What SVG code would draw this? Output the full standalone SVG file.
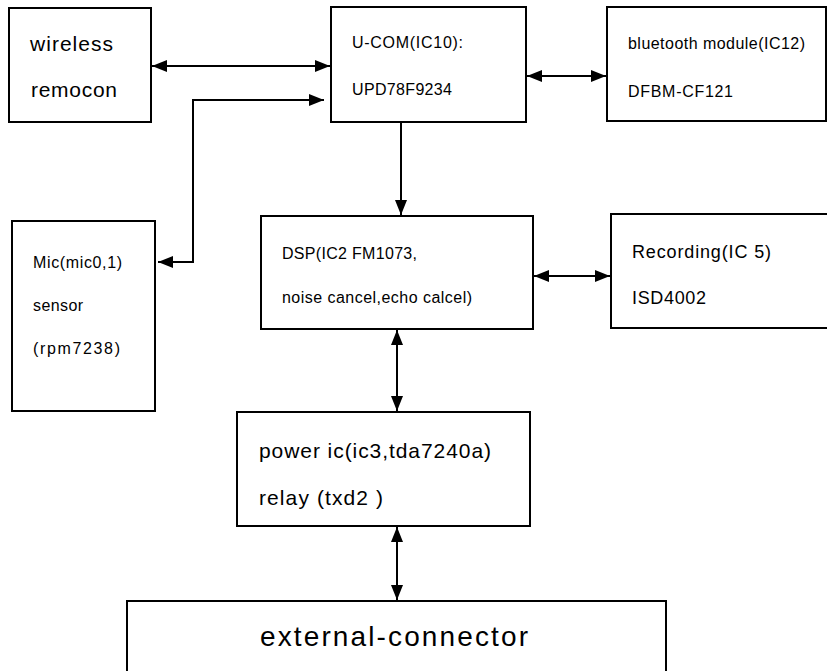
<svg xmlns="http://www.w3.org/2000/svg" width="827" height="671" viewBox="0 0 827 671">
<style>
  .box { fill: #ffffff; stroke: #000000; stroke-width: 2; }
  .t { font-family: "Liberation Sans", Arial, sans-serif; fill: #000000; }
  .s17 { font-size: 16px; }
  .s19 { font-size: 18px; }
  .s22 { font-size: 21px; }
  .s30 { font-size: 28px; }
  .wire { fill: none; stroke: #000000; stroke-width: 2; }
</style>
<defs>
  <marker id="ah" markerUnits="userSpaceOnUse" markerWidth="16" markerHeight="14" viewBox="0 0 16 14" refX="15" refY="7" orient="auto-start-reverse">
    <path d="M0,1 L15,7 L0,13 Z" fill="#000000"/>
  </marker>
</defs>
<rect width="827" height="671" fill="#ffffff"/>

<g id="wireless">
  <rect class="box" x="9" y="8" width="142" height="114"/>
  <text class="t s22" x="30" y="51" textLength="83" lengthAdjust="spacing">wireless</text>
  <text class="t s22" x="31" y="97" textLength="86" lengthAdjust="spacing">remocon</text>
</g>
<g id="ucom">
  <rect class="box" x="331" y="7" width="195" height="115"/>
  <text class="t s17" x="352" y="48" textLength="111" lengthAdjust="spacing">U-COM(IC10):</text>
  <text class="t s17" x="352" y="95" textLength="100" lengthAdjust="spacing">UPD78F9234</text>
</g>
<g id="bluetooth">
  <rect class="box" x="607" y="7" width="219" height="114"/>
  <text class="t s17" x="628" y="49" textLength="177" lengthAdjust="spacing">bluetooth module(IC12)</text>
  <text class="t s17" x="628" y="97" textLength="105" lengthAdjust="spacing">DFBM-CF121</text>
</g>
<g id="mic">
  <rect class="box" x="12" y="221" width="143" height="190"/>
  <text class="t s17" x="33" y="268" textLength="89" lengthAdjust="spacing">Mic(mic0,1)</text>
  <text class="t s17" x="33" y="311" textLength="50" lengthAdjust="spacing">sensor</text>
  <text class="t s17" x="33" y="354" textLength="87" lengthAdjust="spacing">(rpm7238)</text>
</g>
<g id="dsp">
  <rect class="box" x="261" y="216" width="272" height="113"/>
  <text class="t s17" x="282" y="259" textLength="135" lengthAdjust="spacing">DSP(IC2 FM1073,</text>
  <text class="t s17" x="282" y="303" textLength="190" lengthAdjust="spacing">noise cancel,echo calcel)</text>
</g>
<g id="recording">
  <rect class="box" x="611" y="214" width="220" height="114"/>
  <text class="t s19" x="632" y="258" textLength="139" lengthAdjust="spacing">Recording(IC 5)</text>
  <text class="t s19" x="632" y="304" textLength="74" lengthAdjust="spacing">ISD4002</text>
</g>
<g id="power">
  <rect class="box" x="237" y="412" width="293" height="114"/>
  <text class="t s22" x="259" y="458" textLength="232" lengthAdjust="spacing">power ic(ic3,tda7240a)</text>
  <text class="t s22" x="259" y="505" textLength="124" lengthAdjust="spacing">relay (txd2 )</text>
</g>
<g id="external">
  <rect class="box" x="127" y="601" width="539" height="90"/>
  <text class="t s30" x="260" y="646" textLength="268" lengthAdjust="spacing">external-connector</text>
</g>

<g id="connectors">
  <line class="wire" x1="152" y1="66" x2="330" y2="66" marker-start="url(#ah)" marker-end="url(#ah)"/>
  <polyline class="wire" points="158,262 193,262 193,100 324,100" marker-start="url(#ah)" marker-end="url(#ah)"/>
  <line class="wire" x1="401" y1="122" x2="401" y2="215" marker-end="url(#ah)"/>
  <line class="wire" x1="527" y1="76" x2="606" y2="76" marker-start="url(#ah)" marker-end="url(#ah)"/>
  <line class="wire" x1="534" y1="276" x2="610" y2="276" marker-start="url(#ah)" marker-end="url(#ah)"/>
  <line class="wire" x1="397" y1="330" x2="397" y2="411" marker-start="url(#ah)" marker-end="url(#ah)"/>
  <line class="wire" x1="397" y1="527" x2="397" y2="600" marker-start="url(#ah)" marker-end="url(#ah)"/>
</g>
</svg>
